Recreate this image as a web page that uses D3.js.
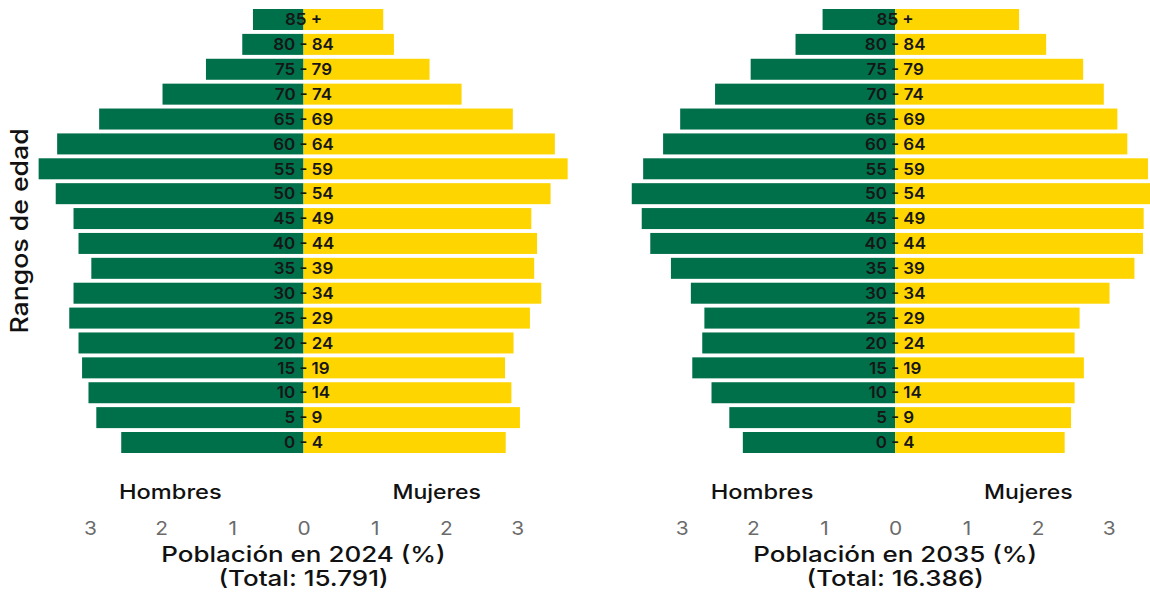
<!DOCTYPE html>
<html>
<head>
<meta charset="utf-8">
<script src="https://cdn.jsdelivr.net/npm/d3@7"></script>
<style>
  html, body { margin: 0; padding: 0; background: #ffffff; }
  svg { display: block; }
  text { font-family: "Inter", "Noto Sans", sans-serif; }
</style>
</head>
<body>
<svg id="chart" width="1150" height="595"></svg>
<script>
// ---- Data ----
const ageGroups = ["85 +", "80 - 84", "75 - 79", "70 - 74", "65 - 69", "60 - 64", "55 - 59", "50 - 54", "45 - 49",
                   "40 - 44", "35 - 39", "30 - 34", "25 - 29", "20 - 24", "15 - 19", "10 - 14", "5 - 9", "0 - 4"];
const hombres2024 = [0.71, 0.86, 1.37, 1.98, 2.87, 3.46, 3.72, 3.48, 3.23, 3.16, 2.98, 3.23, 3.29, 3.16, 3.11, 3.02, 2.91, 2.56];
const mujeres2024 = [1.12, 1.27, 1.77, 2.22, 2.94, 3.53, 3.71, 3.47, 3.20, 3.28, 3.24, 3.34, 3.18, 2.95, 2.83, 2.92, 3.04, 2.84];
const hombres2035 = [1.02, 1.40, 2.03, 2.53, 3.02, 3.26, 3.54, 3.70, 3.56, 3.44, 3.15, 2.87, 2.68, 2.71, 2.85, 2.58, 2.33, 2.14];
const mujeres2035 = [1.74, 2.12, 2.64, 2.93, 3.12, 3.26, 3.55, 3.62, 3.49, 3.48, 3.36, 3.01, 2.59, 2.52, 2.65, 2.52, 2.47, 2.38];
const tickValues = [-3, -2, -1, 0, 1, 2, 3];
const sexLabels = ["Hombres", "Mujeres"];
const panelTitles = ["Población en 2024 (%)", "Población en 2035 (%)"];
const panelTotals = ["(Total: 15.791)", "(Total: 16.386)"];
const yAxisTitle = "Rangos de edad";

// ---- Styles / layout ----
const COLOR_H = "#00704A";
const COLOR_M = "#FFD500";
const W = 1150, H = 595;
const unitPx = 71.2;
const panelCenters = [303.5, 895.2];

// widen Inter glyphs to emulate the wide geometric face of the original
function widen(sel, factor) {
  sel.each(function () {
    const w = this.getComputedTextLength();
    d3.select(this).attr("textLength", w * factor).attr("lengthAdjust", "spacingAndGlyphs");
  });
  return sel;
}

const svg = d3.select("#chart");
svg.append("rect").attr("width", W).attr("height", H).attr("fill", "#fff");

const y = d3.scaleBand()
  .domain(ageGroups)
  .range([7.06, 454.94])
  .paddingInner(0.156)
  .paddingOuter(0.078);

const panels = [
  { h: hombres2024, m: mujeres2024, title: panelTitles[0], total: panelTotals[0] },
  { h: hombres2035, m: mujeres2035, title: panelTitles[1], total: panelTotals[1] }
];

panels.forEach((p, i) => {
  const cx = panelCenters[i];
  const x = d3.scaleLinear().domain([-4, 4]).range([cx - 4 * unitPx, cx + 4 * unitPx]);
  const g = svg.append("g");
  const rowsH = ageGroups.map((a, k) => ({ age: a, v: p.h[k] }));
  const rowsM = ageGroups.map((a, k) => ({ age: a, v: p.m[k] }));

  g.selectAll("rect.h").data(rowsH).join("rect")
    .attr("class", "h")
    .attr("x", d => x(-d.v))
    .attr("y", d => y(d.age))
    .attr("width", d => x(0) - x(-d.v))
    .attr("height", y.bandwidth())
    .attr("fill", COLOR_H);

  g.selectAll("rect.m").data(rowsM).join("rect")
    .attr("class", "m")
    .attr("x", x(0))
    .attr("y", d => y(d.age))
    .attr("width", d => x(d.v) - x(0))
    .attr("height", y.bandwidth())
    .attr("fill", COLOR_M);

  const ages = g.selectAll("text.age").data(ageGroups).join("text")
    .attr("class", "age")
    .attr("x", x(0))
    .attr("y", d => y(d) + y.bandwidth() / 2)
    .attr("dy", "0.36em")
    .attr("text-anchor", "middle")
    .attr("font-size", 16)
    .attr("font-weight", 600)
    .attr("fill", "#161616")
    .text(d => d);
  widen(ages, 1.06);

  // Sex labels
  const hs = g.append("text")
    .attr("x", x(-1.87)).attr("y", 499)
    .attr("text-anchor", "middle").attr("font-size", 20).attr("font-weight", 500)
    .attr("fill", "#111").text(sexLabels[0]);
  const ms = g.append("text")
    .attr("x", x(1.87)).attr("y", 499)
    .attr("text-anchor", "middle").attr("font-size", 20).attr("font-weight", 500)
    .attr("fill", "#111").text(sexLabels[1]);
  widen(hs, 1.18);
  widen(ms, 1.15);

  // Axis
  const axis = d3.axisBottom(x).tickValues(tickValues).tickFormat(d => Math.abs(d)).tickSize(0).tickPadding(0);
  const ag = g.append("g").attr("transform", `translate(0,${521.5})`).call(axis);
  ag.select(".domain").remove();
  const tt = ag.selectAll("text")
    .attr("font-family", "Inter, 'Noto Sans', sans-serif")
    .attr("font-size", 19)
    .attr("fill", "#6b6b6b");
  widen(tt, 1.1);

  // Title
  const t1 = g.append("text")
    .attr("x", x(0)).attr("y", 562)
    .attr("text-anchor", "middle").attr("font-size", 22).attr("font-weight", 500)
    .attr("fill", "#111").text(p.title);
  const t2 = g.append("text")
    .attr("x", x(0)).attr("y", 586)
    .attr("text-anchor", "middle").attr("font-size", 22).attr("font-weight", 500)
    .attr("fill", "#111").text(p.total);
  widen(t1, 1.18);
  widen(t2, 1.18);
});

// Y axis title
const yt = svg.append("text")
  .attr("transform", `translate(28,${(y.range()[0] + y.range()[1]) / 2}) rotate(-90)`)
  .attr("text-anchor", "middle")
  .attr("font-size", 24)
  .attr("font-weight", 500)
  .attr("fill", "#111")
  .text(yAxisTitle);
widen(yt, 1.11);
</script>
</body>
</html>
